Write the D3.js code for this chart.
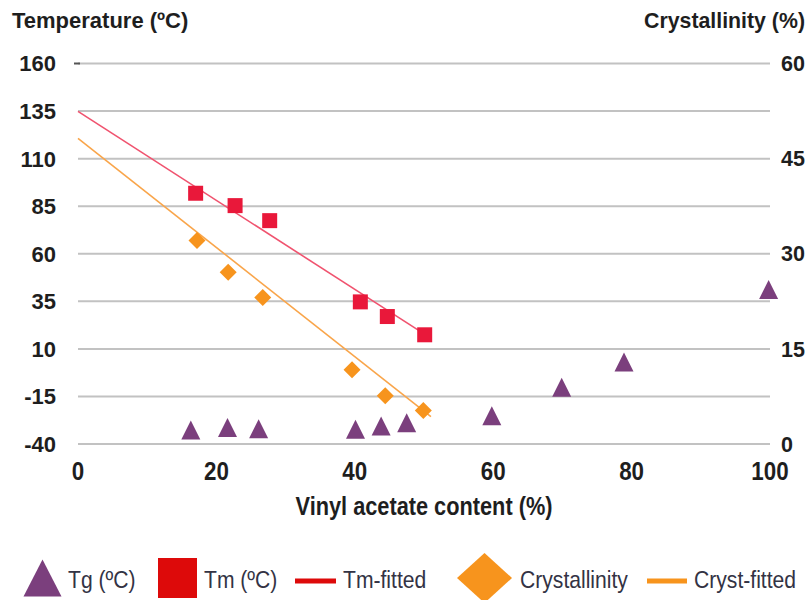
<!DOCTYPE html>
<html>
<head>
<meta charset="utf-8">
<script src="https://cdn.jsdelivr.net/npm/d3@7"></script>
<style>
  html, body { margin: 0; padding: 0; background: #fff; }
  svg { display: block; }
  .bold { font-family: "Liberation Sans", Arial, sans-serif; font-weight: bold; fill: #1e1e1e; }
  .narrow { font-family: "Liberation Sans", Arial, sans-serif; }
</style>
</head>
<body>
<svg id="chart" width="810" height="600"></svg>
<script>
// Vinyl acetate content (%) of each sample
const tgX = [16.3, 21.6, 26.1, 40.1, 43.8, 47.5, 59.8, 69.9, 78.9, 99.8];
// Glass transition temperature (°C)
const tgY = [-32.7, -31.3, -32.0, -32.2, -30.5, -28.8, -25.1, -10.2, 3.1, 41.2];

const tmX = [17.0, 22.7, 27.7, 40.8, 44.7, 50.1];
// Melting temperature (°C)
const tmY = [91.8, 85.3, 77.4, 34.7, 27.0, 17.4];

const crX = [17.2, 21.7, 26.7, 39.6, 44.4, 49.9];
// Crystallinity (%)
const crY = [32.1, 27.1, 23.1, 11.7, 7.6, 5.3];

// Linear fits, drawn between these end points
const tmFitX = [0, 50.3];
const tmFitY = [134.8, 17.2];
const crFitX = [0, 51.0];
const crFitY = [48.2, 4.3];

const xTicks = [0, 20, 40, 60, 80, 100];
const leftTicks = [-40, -15, 10, 35, 60, 85, 110, 135, 160];
const rightTicks = [0, 15, 30, 45, 60];

const legendLabels = ["Tg (ºC)", "Tm (ºC)", "Tm-fitted", "Crystallinity", "Cryst-fitted"];

const svg = d3.select("#chart");

const x = d3.scaleLinear().domain([0, 100]).range([78, 770]);
const yL = d3.scaleLinear().domain([-40, 160]).range([444, 63.5]);
const yR = d3.scaleLinear().domain([0, 60]).range([444, 63.5]);

// horizontal gridlines
svg.append("g")
  .selectAll("line")
  .data(leftTicks)
  .join("line")
  .attr("x1", x(0)).attr("x2", x(100))
  .attr("y1", d => yL(d)).attr("y2", d => yL(d))
  .attr("stroke", "#c2c2c2")
  .attr("stroke-width", 2);

// small tick at the top of the value axis
svg.append("line")
  .attr("x1", x(0) - 4).attr("x2", x(0) + 2)
  .attr("y1", yL(160)).attr("y2", yL(160))
  .attr("stroke", "#555").attr("stroke-width", 2);

// left axis labels
svg.append("g")
  .selectAll("text")
  .data(leftTicks)
  .join("text")
  .attr("class", "bold")
  .attr("x", 56)
  .attr("y", d => yL(d))
  .attr("dy", "0.36em")
  .attr("text-anchor", "end")
  .attr("font-size", 22)
  .text(d => d);

// right axis labels
svg.append("g")
  .selectAll("text")
  .data(rightTicks)
  .join("text")
  .attr("class", "bold")
  .attr("x", 781)
  .attr("y", d => yR(d))
  .attr("dy", "0.36em")
  .attr("text-anchor", "start")
  .attr("font-size", 21.5)
  .text(d => d);

// axis titles
svg.append("text").attr("class", "bold")
  .attr("x", 12).attr("y", 28).attr("font-size", 22)
  .text("Temperature (ºC)");
svg.append("text").attr("class", "bold")
  .attr("x", 805).attr("y", 28).attr("font-size", 21.3)
  .attr("text-anchor", "end")
  .text("Crystallinity (%)");

// x axis labels, set in a condensed face
svg.append("g")
  .selectAll("text")
  .data(xTicks)
  .join("text")
  .attr("class", "bold narrow")
  .attr("transform", d => `translate(${x(d)},480) scale(0.86,1)`)
  .attr("text-anchor", "middle")
  .attr("font-size", 26)
  .text(d => d);

svg.append("text").attr("class", "bold narrow")
  .attr("transform", `translate(${(x(0) + x(100)) / 2},515) scale(0.87,1)`)
  .attr("text-anchor", "middle").attr("font-size", 25)
  .text("Vinyl acetate content (%)");

// fitted lines
const fitLine = (xs, ys, yScale) => d3.line()
  .x((d, i) => x(xs[i]))
  .y((d, i) => yScale(ys[i]))(xs);

svg.append("path")
  .attr("d", fitLine(tmFitX, tmFitY, yL))
  .attr("fill", "none").attr("stroke", "#f0536f").attr("stroke-width", 1.6);
svg.append("path")
  .attr("d", fitLine(crFitX, crFitY, yR))
  .attr("fill", "none").attr("stroke", "#f9a54a").attr("stroke-width", 1.6);

// marker shapes (width w, height h, centred)
const triPath = (w, h) => `M0,${-h / 2}L${w / 2},${h / 2}L${-w / 2},${h / 2}Z`;
const diaPath = (w, h) => `M0,${-h / 2}L${w / 2},0L0,${h / 2}L${-w / 2},0Z`;
const sqPath = (w, h) => `M${-w / 2},${-h / 2}h${w}v${h}h${-w}Z`;

// Tg triangles
svg.append("g")
  .selectAll("path")
  .data(tgX)
  .join("path")
  .attr("transform", (d, i) => `translate(${x(d)},${yL(tgY[i])})`)
  .attr("d", triPath(19, 19))
  .attr("fill", "#7b3f7d");

// Tm squares
svg.append("g")
  .selectAll("path")
  .data(tmX)
  .join("path")
  .attr("transform", (d, i) => `translate(${x(d)},${yL(tmY[i])})`)
  .attr("d", sqPath(15, 15))
  .attr("fill", "#e9183a");

// Crystallinity diamonds
svg.append("g")
  .selectAll("path")
  .data(crX)
  .join("path")
  .attr("transform", (d, i) => `translate(${x(d)},${yR(crY[i])})`)
  .attr("d", diaPath(17, 17))
  .attr("fill", "#f7941d");

// legend
const legend = svg.append("g");
const lgY = 578;
legend.append("path").attr("transform", `translate(42.5,${lgY})`)
  .attr("d", triPath(38, 37)).attr("fill", "#7b3f7d");
legend.append("path").attr("transform", `translate(177.5,${lgY})`)
  .attr("d", sqPath(39, 40)).attr("fill", "#dd0a0a");
legend.append("line").attr("x1", 295).attr("x2", 336)
  .attr("y1", lgY + 3).attr("y2", lgY + 3)
  .attr("stroke", "#dd0a0a").attr("stroke-width", 5);
legend.append("path").attr("transform", `translate(484.5,${lgY})`)
  .attr("d", diaPath(55, 50)).attr("fill", "#f7941d");
legend.append("line").attr("x1", 647).attr("x2", 687)
  .attr("y1", lgY + 3).attr("y2", lgY + 3)
  .attr("stroke", "#f7941d").attr("stroke-width", 5);

const legendX = [68, 204, 343, 520, 694];
legend.selectAll("text")
  .data(legendLabels)
  .join("text")
  .attr("class", "narrow")
  .attr("transform", (d, i) => `translate(${legendX[i]},588) scale(0.88,1)`)
  .attr("font-size", 24)
  .attr("fill", "#333344")
  .text(d => d);
</script>
</body>
</html>
